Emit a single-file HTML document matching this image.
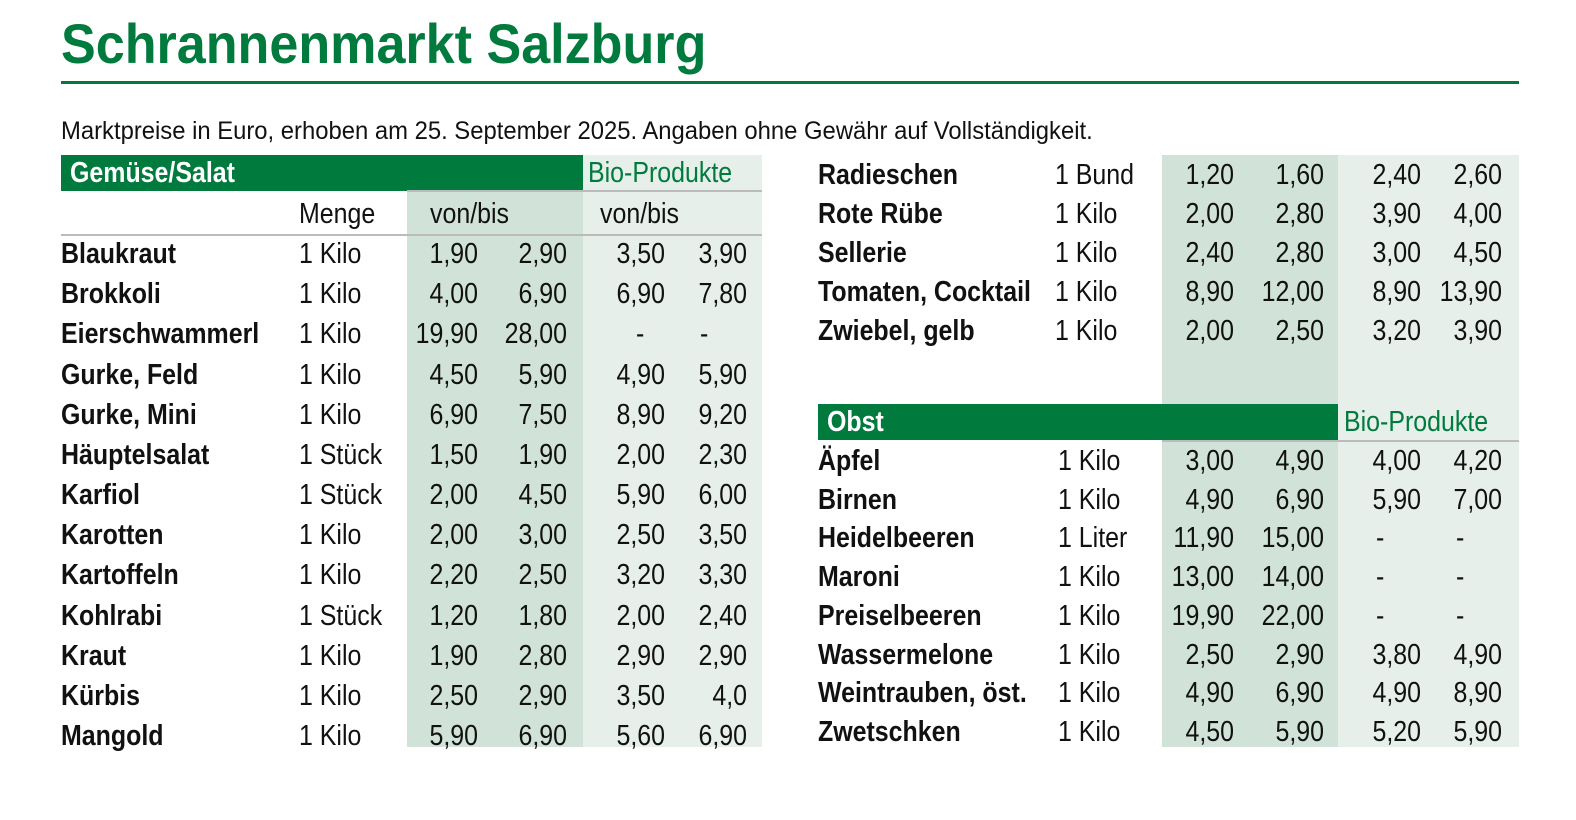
<!DOCTYPE html>
<html><head><meta charset="utf-8"><style>
body{margin:0;width:1576px;height:820px;background:#fff;position:relative;overflow:hidden;font-family:"Liberation Sans",sans-serif;color:#111}
div{position:absolute;white-space:nowrap}
.t{font-size:29px;line-height:34px;height:34px;transform:scaleX(0.86);transform-origin:0 50%}
.b{font-weight:bold}
.r{text-align:right;width:100px;transform-origin:100% 50%}
.g{color:#007a3d}
</style></head><body>
<div style="left:61px;top:12px;font-size:56px;font-weight:bold;color:#007a3d;line-height:64px;transform:scaleX(0.93);transform-origin:0 50%">Schrannenmarkt Salzburg</div>
<div style="left:61px;top:81px;width:1458px;height:3px;background:#007a3d"></div>
<div style="left:61px;top:116px;font-size:25px;line-height:30px;transform:scaleX(0.953);transform-origin:0 50%">Marktpreise in Euro, erhoben am 25. September 2025. Angaben ohne Gewähr auf Vollständigkeit.</div>

<div style="left:61px;top:155px;width:522px;height:36px;background:#007a3d"></div>
<div style="left:583px;top:155px;width:179px;height:592px;background:#e6efe9"></div>
<div style="left:407px;top:191px;width:176px;height:556px;background:#d1e3d8"></div>
<div style="left:407px;top:190px;width:355px;height:2px;background:#bbb"></div>
<div style="left:61px;top:234px;width:701px;height:2px;background:#bbb"></div>
<div class="t b" style="left:70px;top:156px;color:#fff">Gemüse/Salat</div>
<div class="t g" style="left:588px;top:156px">Bio-Produkte</div>
<div class="t" style="left:299px;top:197px">Menge</div>
<div class="t" style="left:430px;top:197px">von/bis</div>
<div class="t" style="left:600px;top:197px">von/bis</div>

<div style="left:1162px;top:155px;width:176px;height:592px;background:#d1e3d8"></div>
<div style="left:1338px;top:155px;width:181px;height:592px;background:#e6efe9"></div>
<div style="left:818px;top:404px;width:520px;height:36px;background:#007a3d"></div>
<div style="left:1162px;top:440px;width:357px;height:2px;background:#bbb"></div>
<div class="t b" style="left:827px;top:405px;color:#fff">Obst</div>
<div class="t g" style="left:1344px;top:405px">Bio-Produkte</div>

<script>
function rows(data,x,y0,dy){let h='';data.forEach((d,i)=>{let t=y0+i*dy-17;
h+=`<div class="t b" style="left:${x[0]}px;top:${t}px">${d[0]}</div><div class="t" style="left:${x[1]}px;top:${t}px">${d[1]}</div>`;
for(let k=0;k<4;k++){let v=d[2+k];if(v==='-'){h+=`<div class="t" style="left:${x[6+k]}px;top:${t}px">-</div>`}else h+=`<div class="t r" style="left:${x[2+k]-100}px;top:${t}px">${v}</div>`}});
document.body.insertAdjacentHTML('beforeend',h)}
rows([
["Blaukraut","1 Kilo","1,90","2,90","3,50","3,90"],
["Brokkoli","1 Kilo","4,00","6,90","6,90","7,80"],
["Eierschwammerl","1 Kilo","19,90","28,00","-","-"],
["Gurke, Feld","1 Kilo","4,50","5,90","4,90","5,90"],
["Gurke, Mini","1 Kilo","6,90","7,50","8,90","9,20"],
["Häuptelsalat","1 Stück","1,50","1,90","2,00","2,30"],
["Karfiol","1 Stück","2,00","4,50","5,90","6,00"],
["Karotten","1 Kilo","2,00","3,00","2,50","3,50"],
["Kartoffeln","1 Kilo","2,20","2,50","3,20","3,30"],
["Kohlrabi","1 Stück","1,20","1,80","2,00","2,40"],
["Kraut","1 Kilo","1,90","2,80","2,90","2,90"],
["Kürbis","1 Kilo","2,50","2,90","3,50","4,0"],
["Mangold","1 Kilo","5,90","6,90","5,60","6,90"]
],[61,299,478,567,665,747,0,0,636,700],254,40.17);
rows([
["Radieschen","1 Bund","1,20","1,60","2,40","2,60"],
["Rote Rübe","1 Kilo","2,00","2,80","3,90","4,00"],
["Sellerie","1 Kilo","2,40","2,80","3,00","4,50"],
["Tomaten, Cocktail","1 Kilo","8,90","12,00","8,90","13,90"],
["Zwiebel, gelb","1 Kilo","2,00","2,50","3,20","3,90"]
],[818,1055,1234,1324,1421,1502,0,0,1376,1456],175,39);
rows([
["Äpfel","1 Kilo","3,00","4,90","4,00","4,20"],
["Birnen","1 Kilo","4,90","6,90","5,90","7,00"],
["Heidelbeeren","1 Liter","11,90","15,00","-","-"],
["Maroni","1 Kilo","13,00","14,00","-","-"],
["Preiselbeeren","1 Kilo","19,90","22,00","-","-"],
["Wassermelone","1 Kilo","2,50","2,90","3,80","4,90"],
["Weintrauben, öst.","1 Kilo","4,90","6,90","4,90","8,90"],
["Zwetschken","1 Kilo","4,50","5,90","5,20","5,90"]
],[818,1058,1234,1324,1421,1502,0,0,1376,1456],461,38.7);
</script>
</body></html>
